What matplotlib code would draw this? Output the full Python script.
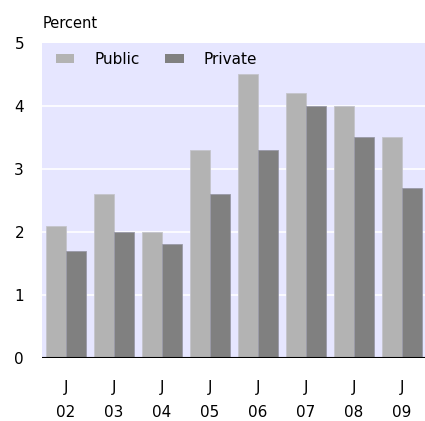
import numpy as np
import matplotlib.pyplot as plt
from matplotlib.patches import Patch

years = ["02", "03", "04", "05", "06", "07", "08", "09"]
public = [2.1, 2.6, 2.0, 3.3, 4.5, 4.2, 4.0, 3.5]
private = [1.7, 2.0, 1.8, 2.6, 3.3, 4.0, 3.5, 2.7]

plt.rcParams['font.family'] = ['DejaVu Sans']

fig = plt.figure(figsize=(4.25, 4.21), dpi=100)
ax = fig.add_axes([0.099, 0.15, 0.901, 0.748])
ax.set_facecolor('#E6E6FF')

x = np.arange(len(years))
w = 0.417
ax.bar(x - w / 2, public, w, color='#B3B3B3', edgecolor='#C4C4CC', linewidth=0.6, zorder=3)
ax.bar(x + w / 2, private, w, color='#808080', edgecolor='#9A9AA8', linewidth=0.6, zorder=3)

# white grid lines
for yv in [1, 2, 3, 4]:
    ax.axhline(yv, color='white', linewidth=1.2, zorder=1)
ax.axhline(0, color='black', linewidth=1.5, zorder=4)

ax.set_xlim(-0.5, 7.48)
ax.set_ylim(0, 5)
ax.set_yticks([0, 1, 2, 3, 4, 5])
ax.set_xticks(x)
ax.set_xticklabels([f"J\n{y}" for y in years], linespacing=1.8)
ax.tick_params(axis='both', length=0, labelsize=11)
ax.tick_params(axis='y', pad=13)
ax.tick_params(axis='x', pad=16)
for s in ax.spines.values():
    s.set_visible(False)

fig.text(0.101, 0.945, "Percent", fontsize=10.5, ha='left', va='center')

handles = [Patch(facecolor='#B3B3B3', label='Public'),
           Patch(facecolor='#808080', label='Private')]
ax.legend(handles=handles, ncol=2, loc='upper left', frameon=False,
          fontsize=11, handlelength=1.2, handleheight=0.55,
          columnspacing=1.7, handletextpad=1.3,
          bbox_to_anchor=(0.0, 1.015))

fig.savefig('out.png', dpi=100)
